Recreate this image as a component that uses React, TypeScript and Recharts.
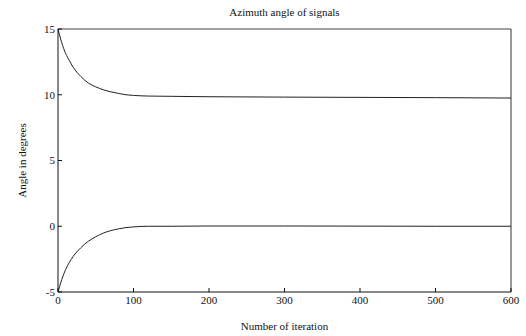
import React from "react";
import { LineChart, Line, XAxis, YAxis, Label, ReferenceLine } from "recharts";

const iterations = [0, 2, 5, 10, 15, 20, 30, 40, 50, 60, 70, 80, 90, 100, 120, 150, 200, 300, 400, 500, 600];
const upperAngle = [15, 14.55, 13.95, 13.15, 12.6, 12.1, 11.4, 10.9, 10.6, 10.38, 10.22, 10.1, 10.0, 9.95, 9.9, 9.88, 9.85, 9.82, 9.8, 9.78, 9.75];
const lowerAngle = [-5, -4.6, -4.05, -3.3, -2.75, -2.3, -1.65, -1.15, -0.8, -0.52, -0.33, -0.2, -0.1, -0.05, 0, 0, 0.02, 0.02, 0.01, 0.0, 0.0];
const xTicks = [0, 100, 200, 300, 400, 500, 600];
const yTicks = [-5, 0, 5, 10, 15];

const data = iterations.map((it, i) => ({ it, upper: upperAngle[i], lower: lowerAngle[i] }));

const font = "'Liberation Serif', 'DejaVu Serif', serif";
const tickStyle = { fontSize: 11, fill: "#111", fontFamily: font };
const textStyle = { fontSize: 11, fill: "#111", fontFamily: font };

export default function App() {
  return (
    <div style={{ position: "absolute", left: 0, top: 0, background: "#fff" }}>
      <LineChart width={526} height={336} data={data} margin={{ top: 29, right: 15, bottom: 0, left: 0 }}>
        <XAxis
          dataKey="it"
          type="number"
          domain={[0, 600]}
          ticks={xTicks}
          height={44}
          tickSize={-4}
          tickMargin={8}
          tick={tickStyle}
          stroke="#111"
          interval={0}
        >
          <Label value="Number of iteration" position="insideBottom" offset={6} style={textStyle} />
        </XAxis>
        <YAxis
          type="number"
          domain={[-5, 15]}
          ticks={yTicks}
          width={58}
          tickSize={-4}
          tickMargin={7}
          tick={tickStyle}
          stroke="#111"
          interval={0}
        >
          <Label value="Angle in degrees" angle={-90} position="center" dx={-7} style={textStyle} />
        </YAxis>
        <ReferenceLine y={15} stroke="#444" strokeWidth={1}>
          <Label value="Azimuth angle of signals" position="top" offset={13} style={textStyle} />
        </ReferenceLine>
        <ReferenceLine x={600} stroke="#333" strokeWidth={1} />
        <Line type="monotone" dataKey="upper" stroke="#222" strokeWidth={1} dot={false} isAnimationActive={false} />
        <Line type="monotone" dataKey="lower" stroke="#222" strokeWidth={1} dot={false} isAnimationActive={false} />
      </LineChart>
    </div>
  );
}
